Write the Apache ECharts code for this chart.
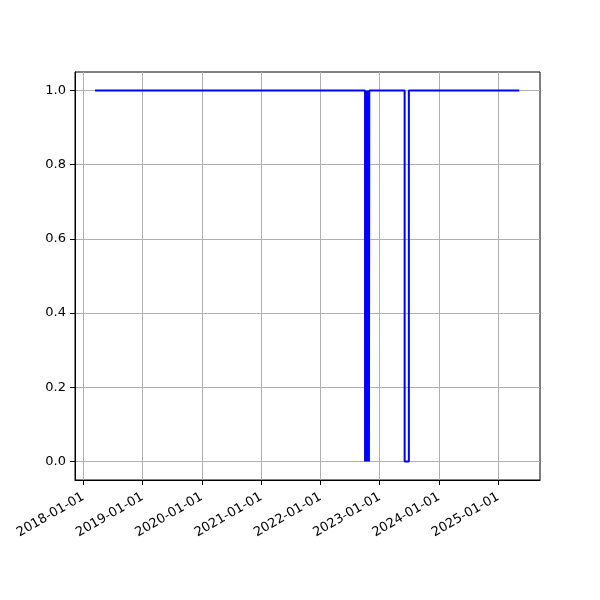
<!DOCTYPE html>
<html>
<head>
<meta charset="utf-8">
<script src="https://cdn.jsdelivr.net/npm/echarts@6/dist/echarts.min.js"></script>
<style>html,body{margin:0;padding:0;background:#fff}#c{width:600px;height:600px}</style>
</head>
<body>
<div id="c"></div>
<script>
const dates = ['2018-03-14','2022-10-03','2022-10-05','2022-10-07','2022-10-09','2022-10-11','2022-10-13','2022-10-15','2022-10-17','2022-10-19','2022-10-21','2022-10-23','2022-10-25','2022-10-27','2022-10-29','2022-10-31','2023-06-04','2023-06-30','2025-05-10'];
const values = [1,0,1,0,1,0,1,0,1,0,1,0,1,0,1,1,0,1,1];
const xTickLabels = ['2018-01-01','2019-01-01','2020-01-01','2021-01-01','2022-01-01','2023-01-01','2024-01-01','2025-01-01'];
const yTicks = [0.0,0.2,0.4,0.6,0.8,1.0];

const ts = s => new Date(s + 'T00:00:00Z').getTime();
const data = dates.map((d,i)=>[ts(d), values[i]]);
const xTicks = xTickLabels.map(ts);
const pad2 = n => (n<10?'0':'')+n;
const fmtDate = v => { const d = new Date(v); return d.getUTCFullYear()+'-'+pad2(d.getUTCMonth()+1)+'-'+pad2(d.getUTCDate()); };

const chart = echarts.init(document.getElementById('c'));
chart.setOption({
  animation:false,
  backgroundColor:'#fff',
  grid:{left:75,right:60,top:72,bottom:120,show:true,borderColor:'#000',borderWidth:1,backgroundColor:'transparent'},
  xAxis:{
    type:'value',
    min:ts('2017-11-11'), max:ts('2025-09-15'),
    axisLine:{show:true,onZero:false,lineStyle:{color:'#000',width:1}},
    axisTick:{show:true,customValues:xTicks,length:5,lineStyle:{color:'#000'}},
    axisLabel:{customValues:xTicks,formatter:fmtDate,rotate:30,color:'#000',fontFamily:'DejaVu Sans',fontSize:13,margin:16},
    splitLine:{show:true,lineStyle:{color:'#b0b0b0',width:1}}
  },
  yAxis:{
    type:'value',
    min:-0.05, max:1.05,
    axisLine:{show:true,onZero:false,lineStyle:{color:'#000',width:1}},
    axisTick:{show:true,customValues:yTicks,length:5,lineStyle:{color:'#000'}},
    axisLabel:{customValues:yTicks,formatter:v=>v.toFixed(1),color:'#000',fontFamily:'DejaVu Sans',fontSize:13,margin:9},
    splitLine:{show:true,lineStyle:{color:'#b0b0b0',width:1}}
  },
  series:[{
    type:'line',
    data:data,
    step:'end',
    showSymbol:false,
    symbol:'none',
    lineStyle:{color:'#0000ff',width:2},
    itemStyle:{color:'#0000ff'}
  }]
});
</script>
</body>
</html>
